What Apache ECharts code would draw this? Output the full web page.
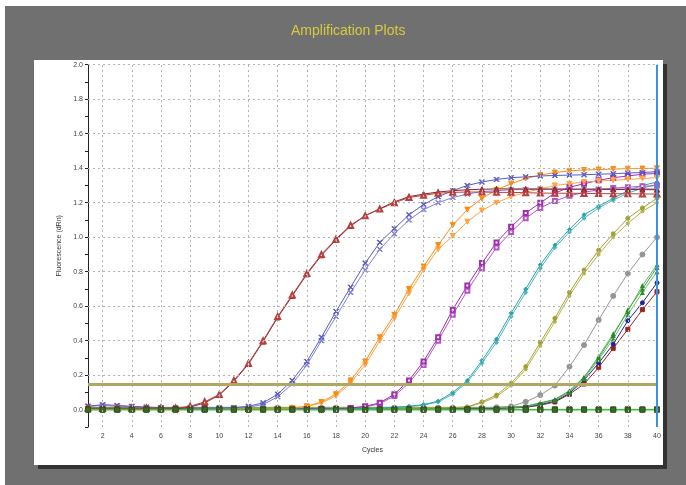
<!DOCTYPE html>
<html><head><meta charset="utf-8">
<script src="https://cdn.jsdelivr.net/npm/echarts@6/dist/echarts.min.js"></script>
<style>html,body{margin:0;padding:0;background:#fff}#c{width:686px;height:485px}</style>
</head><body><div id="c"></div>
<script>
// ---- data ----
const cycles = [1,2,3,4,5,6,7,8,9,10,11,12,13,14,15,16,17,18,19,20,21,22,23,24,25,26,27,28,29,30,31,32,33,34,35,36,37,38,39,40];
const darkRed1 = [0.01,0.01,0.01,0.01,0.01,0.01,0.01,0.02,0.046,0.089,0.17,0.27,0.40,0.54,0.665,0.79,0.90,0.99,1.07,1.125,1.163,1.20,1.23,1.243,1.255,1.26,1.262,1.262,1.26,1.26,1.258,1.256,1.255,1.255,1.254,1.253,1.252,1.252,1.251,1.25];
const darkRed2 = [0.005,0.005,0.005,0.005,0.005,0.005,0.005,0.015,0.04,0.085,0.165,0.265,0.395,0.535,0.66,0.785,0.895,0.985,1.065,1.125,1.165,1.205,1.235,1.25,1.262,1.27,1.275,1.278,1.28,1.28,1.28,1.28,1.279,1.279,1.278,1.278,1.277,1.276,1.276,1.275];
const blue1 = [0.02,0.03,0.025,0.02,0.015,0.012,0.01,0.01,0.01,0.01,0.012,0.02,0.04,0.09,0.17,0.28,0.42,0.57,0.71,0.85,0.97,1.05,1.13,1.19,1.235,1.27,1.30,1.32,1.335,1.345,1.35,1.355,1.358,1.36,1.362,1.365,1.368,1.372,1.375,1.38];
const blue2 = [0.02,0.025,0.02,0.018,0.014,0.012,0.01,0.01,0.01,0.01,0.01,0.015,0.03,0.075,0.15,0.26,0.40,0.54,0.68,0.81,0.93,1.02,1.10,1.16,1.20,1.23,1.25,1.265,1.27,1.275,1.276,1.277,1.278,1.278,1.279,1.279,1.28,1.28,1.28,1.28];
const orange1 = [0.005,0.005,0.005,0.005,0.005,0.005,0.005,0.005,0.005,0.005,0.005,0.005,0.005,0.005,0.01,0.02,0.045,0.09,0.17,0.28,0.42,0.55,0.70,0.83,0.955,1.07,1.16,1.225,1.275,1.31,1.34,1.36,1.375,1.385,1.39,1.392,1.395,1.397,1.398,1.40];
const orange2 = [0.005,0.005,0.005,0.005,0.005,0.005,0.005,0.005,0.005,0.005,0.005,0.005,0.005,0.005,0.008,0.018,0.04,0.08,0.155,0.26,0.40,0.53,0.675,0.81,0.93,1.007,1.09,1.155,1.20,1.235,1.26,1.28,1.30,1.31,1.32,1.325,1.33,1.335,1.34,1.345];
const purple1 = [0.005,0.005,0.005,0.005,0.005,0.005,0.005,0.005,0.005,0.005,0.005,0.005,0.005,0.005,0.005,0.005,0.005,0.005,0.01,0.02,0.04,0.09,0.17,0.28,0.42,0.58,0.72,0.85,0.97,1.06,1.14,1.20,1.255,1.29,1.31,1.33,1.345,1.355,1.365,1.37];
const purple2 = [0.005,0.005,0.005,0.005,0.005,0.005,0.005,0.005,0.005,0.005,0.005,0.005,0.005,0.005,0.005,0.005,0.005,0.005,0.008,0.016,0.035,0.08,0.155,0.26,0.40,0.55,0.69,0.82,0.94,1.03,1.11,1.17,1.21,1.24,1.26,1.275,1.285,1.29,1.295,1.30];
const teal1 = [0.008,0.008,0.008,0.008,0.008,0.008,0.008,0.008,0.008,0.008,0.008,0.008,0.008,0.008,0.008,0.008,0.008,0.008,0.008,0.008,0.01,0.015,0.02,0.03,0.05,0.10,0.17,0.285,0.41,0.56,0.70,0.84,0.955,1.045,1.13,1.18,1.225,1.27,1.30,1.32];
const teal2 = [0.008,0.008,0.008,0.008,0.008,0.008,0.008,0.008,0.008,0.008,0.008,0.008,0.008,0.008,0.008,0.008,0.008,0.008,0.008,0.008,0.01,0.013,0.018,0.027,0.045,0.09,0.16,0.27,0.39,0.54,0.68,0.82,0.94,1.03,1.11,1.17,1.215,1.255,1.285,1.305];
const olive1 = [0.01,0.01,0.01,0.01,0.01,0.01,0.01,0.01,0.01,0.01,0.01,0.01,0.01,0.01,0.01,0.01,0.01,0.01,0.01,0.01,0.01,0.01,0.01,0.01,0.01,0.012,0.016,0.046,0.085,0.153,0.25,0.39,0.53,0.68,0.81,0.925,1.02,1.11,1.17,1.225];
const olive2 = [0.01,0.01,0.01,0.01,0.01,0.01,0.01,0.01,0.01,0.01,0.01,0.01,0.01,0.01,0.01,0.01,0.01,0.01,0.01,0.01,0.01,0.01,0.01,0.01,0.01,0.012,0.015,0.04,0.075,0.14,0.235,0.37,0.51,0.66,0.79,0.90,1.00,1.08,1.15,1.20];
const gray1 = [0.012,0.012,0.012,0.012,0.012,0.012,0.012,0.012,0.012,0.012,0.012,0.012,0.012,0.012,0.012,0.012,0.012,0.012,0.012,0.012,0.012,0.012,0.012,0.012,0.012,0.012,0.012,0.012,0.014,0.02,0.046,0.085,0.14,0.25,0.375,0.52,0.66,0.79,0.90,1.00];
const green1 = [0.014,0.014,0.014,0.014,0.014,0.014,0.014,0.014,0.014,0.014,0.014,0.014,0.014,0.014,0.014,0.014,0.014,0.014,0.014,0.014,0.014,0.014,0.014,0.014,0.014,0.014,0.014,0.014,0.014,0.015,0.02,0.04,0.06,0.11,0.19,0.30,0.43,0.58,0.70,0.825];
const green2 = [0.012,0.012,0.012,0.012,0.012,0.012,0.012,0.012,0.012,0.012,0.012,0.012,0.012,0.012,0.012,0.012,0.012,0.012,0.012,0.012,0.012,0.012,0.012,0.012,0.012,0.012,0.012,0.012,0.012,0.014,0.018,0.035,0.055,0.10,0.18,0.29,0.41,0.55,0.68,0.80];
const green3 = [0.013,0.013,0.013,0.013,0.013,0.013,0.013,0.013,0.013,0.013,0.013,0.013,0.013,0.013,0.013,0.013,0.013,0.013,0.013,0.013,0.013,0.013,0.013,0.013,0.013,0.013,0.013,0.013,0.013,0.015,0.02,0.038,0.058,0.105,0.185,0.31,0.44,0.57,0.72,0.84];
const navy1 = [0.01,0.01,0.01,0.01,0.01,0.01,0.01,0.01,0.01,0.01,0.01,0.01,0.01,0.01,0.01,0.01,0.01,0.01,0.01,0.01,0.01,0.01,0.01,0.01,0.01,0.01,0.01,0.01,0.01,0.012,0.016,0.03,0.05,0.095,0.172,0.27,0.38,0.516,0.62,0.736];
const maroon1 = [0.008,0.008,0.008,0.008,0.008,0.008,0.008,0.008,0.008,0.008,0.008,0.008,0.008,0.008,0.008,0.008,0.008,0.008,0.008,0.008,0.008,0.008,0.008,0.008,0.008,0.008,0.008,0.008,0.008,0.01,0.014,0.026,0.045,0.09,0.149,0.246,0.356,0.466,0.58,0.684];
const ntc1 = [0,0,0,0,0,0,0,0,0,0,0,0,0,0,0,0,0,0,0,0,0,0,0,0,0,0,0,0,0,0,0,0,0,0,0,0,0,0,0,0];
const ntc2 = [0.002,0.002,0.002,0.002,0.002,0.002,0.002,0.002,0.002,0.002,0.002,0.002,0.002,0.002,0.002,0.002,0.002,0.002,0.002,0.002,0.002,0.002,0.002,0.002,0.002,0.002,0.002,0.002,0.002,0.002,0.002,0.002,0.002,0.002,0.002,0.002,0.002,0.002,0.002,0.002];
const threshold = 0.15;
const markerCycle = 40;
const gridYValues = [0.2,0.4,0.6,0.8,1.0,1.2,1.4,1.6,1.8,2.0];
const gridXValues = [2,4,6,8,10,12,14,16,18,20,22,24,26,28,30,32,34,36,38];

// ---- chart ----
const X_PATH = 'path://M0,1L1,0L5,4L9,0L10,1L6,5L10,9L9,10L5,6L1,10L0,9L4,5Z';
function pts(arr){ return cycles.map((c,i)=>[c, arr[i]]); }
function mk(name, arr, color, symbol, size, extra){
  return Object.assign({
    name, type:'line', data: pts(arr), symbol, symbolSize: size,
    lineStyle:{color, width:1}, itemStyle:{color, borderColor:color, borderWidth:1},
    silent:true, z:3, animation:false
  }, extra||{});
}

const series = [
  mk('maroon1', maroon1, '#9a2222', 'rect', 4),
  mk('navy1', navy1, '#22229a', 'circle', 4),
  mk('green2', green2, '#6cc06c', 'triangle', 5, {itemStyle:{color:'#2e8e2e'}}),
  mk('green3', green3, '#5cb85c', 'triangle', 5, {itemStyle:{color:'#2e8e2e'}}),
  mk('green1', green1, '#45a845', 'triangle', 5, {itemStyle:{color:'#248a24'}}),
  mk('gray1', gray1, '#959595', 'circle', 5),
  mk('olive2', olive2, '#b4b448', 'circle', 3),
  mk('olive1', olive1, '#a2a232', 'circle', 4),
  mk('teal2', teal2, '#4ab7bf', 'diamond', 4),
  mk('teal1', teal1, '#2aa4ae', 'diamond', 4),
  mk('purple2', purple2, '#b555c4', 'emptyRect', 4),
  mk('purple1', purple1, '#a030b0', 'emptyRect', 4),
  mk('orange2', orange2, '#ffa445', 'triangle', 5, {symbolRotate:180}),
  mk('orange1', orange1, '#ff8a10', 'triangle', 5, {symbolRotate:180}),
  mk('blue2', blue2, '#8080d8', X_PATH, 5),
  mk('blue1', blue1, '#5a5ac4', X_PATH, 5),
  mk('darkRed2', darkRed2, '#8e2020', 'triangle', 5),
  mk('darkRed1', darkRed1, '#b84040', 'emptyTriangle', 5),
  mk('ntc2', ntc2, '#2f8f2f', 'rect', 5, {z:4, itemStyle:{color:'#5a3a22',borderColor:'#4a2a18'}, lineStyle:{color:'#2f8f2f',width:1}}),
  mk('ntc1', ntc1, '#3cc03c', 'rect', 5, {z:4, itemStyle:{color:'#3a6a28',borderColor:'#2a5a1e'}, lineStyle:{color:'#3cc03c',width:1.5}}),
  {
    name:'guides', type:'line', data:[], silent:true, z:1, animation:false,
    markLine:{
      silent:true, symbol:'none', animation:false, label:{show:false},
      lineStyle:{color:'#b4b4b4', type:[2,3], width:1},
      data: gridYValues.map(v=>({yAxis:v})).concat(gridXValues.map(v=>({xAxis:v})))
    }
  },
  {
    name:'threshold', type:'line', data:[], silent:true, z:2, animation:false,
    markLine:{
      silent:true, symbol:'none', animation:false, label:{show:false},
      data:[
        {yAxis:threshold, lineStyle:{color:'#aea866', width:3, type:'solid'}},
        {xAxis:markerCycle, lineStyle:{color:'#3d92dc', width:2, type:'solid'}}
      ]
    }
  }
];

const chart = echarts.init(document.getElementById('c'), null, {renderer:'canvas'});
chart.setOption({
  animation:false,
  backgroundColor:'#ffffff',
  graphic:[
    {type:'rect', z:-10, shape:{x:5,y:6,width:681,height:479}, style:{fill:'#707070'}},
    {type:'rect', z:-9, shape:{x:38,y:64,width:629,height:405}, style:{fill:'#333333'}},
    {type:'rect', z:-8, shape:{x:34,y:60,width:629,height:405}, style:{fill:'#ffffff'}},
    {type:'text', z:5, left:291, top:24, style:{text:'Amplification Plots', fill:'#d9ca3c', font:'14px "Liberation Sans", Arial, sans-serif'}}
  ],
  grid:{left:88, right:29, top:64.7, bottom:58, containLabel:false},
  xAxis:{
    type:'value', min:1, max:40, interval:1,
    name:'Cycles', nameLocation:'middle', nameGap:20,
    nameTextStyle:{fontSize:7, color:'#333', fontFamily:'"Liberation Sans", Arial'},
    axisLine:{show:true, lineStyle:{color:'#222', width:1}},
    axisTick:{show:true, length:3, lineStyle:{color:'#222'}},
    axisLabel:{fontSize:7, color:'#444', margin:6, fontFamily:'"Liberation Sans", Arial',
      formatter:v=> (Math.round(v)%2===0 ? String(Math.round(v)) : '')},
    splitLine:{show:false}
  },
  yAxis:{
    type:'value', min:-0.1, max:2.0, interval:0.1,
    name:'Fluorescence (dRn)', nameLocation:'middle', nameGap:22,
    nameTextStyle:{fontSize:7, color:'#333', fontFamily:'"Liberation Sans", Arial'},
    axisLine:{show:true, lineStyle:{color:'#222', width:1}},
    axisTick:{show:true, length:3, lineStyle:{color:'#222'}},
    axisLabel:{fontSize:7, color:'#444', margin:5, fontFamily:'"Liberation Sans", Arial',
      formatter:v=>{const k=Math.round(v*10); return (k>=0 && k%2===0) ? (k/10).toFixed(1) : '';}},
    splitLine:{show:false}
  },
  series
});
</script>
</body></html>
